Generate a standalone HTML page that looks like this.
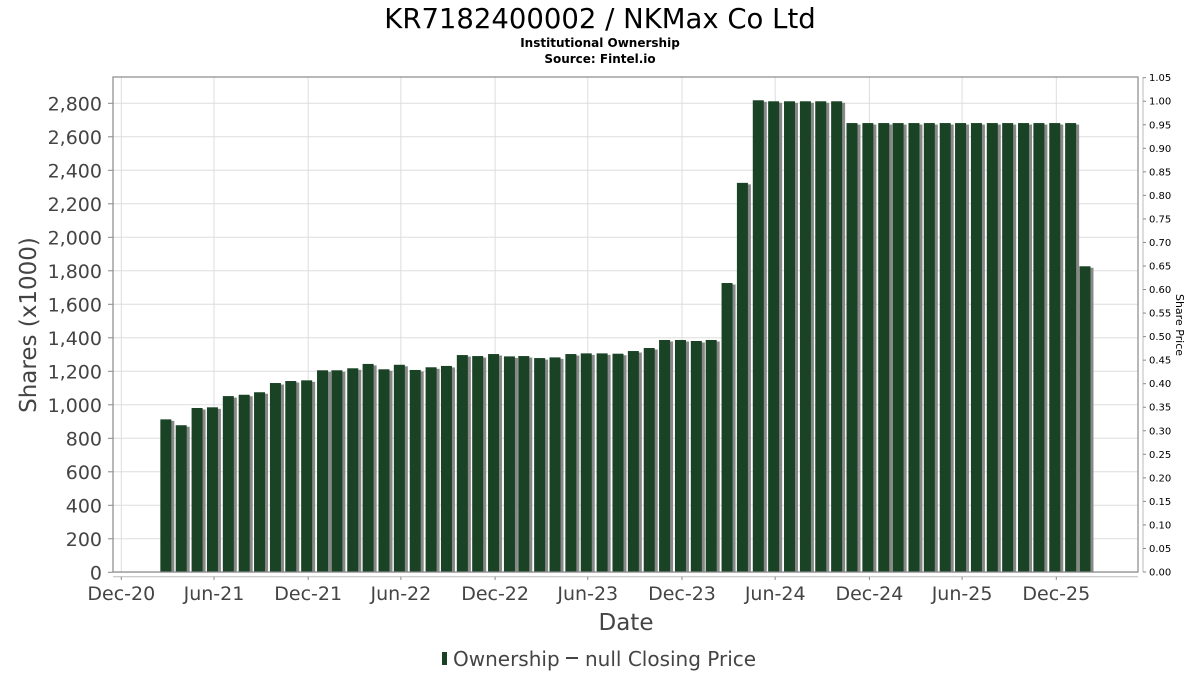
<!DOCTYPE html>
<html><head><meta charset="utf-8"><style>
body{margin:0;background:#fff;}
svg{display:block;font-family:"DejaVu Sans","Liberation Sans",sans-serif;}
</style></head><body>
<svg id="chart" width="1200" height="675" viewBox="0 0 1200 675">
<text x="600" y="28" text-anchor="middle" font-size="27.5" fill="#000">KR7182400002 / NKMax Co Ltd</text>
<text x="600" y="47" text-anchor="middle" font-size="12" font-weight="bold" fill="#000">Institutional Ownership</text>
<text x="600" y="63" text-anchor="middle" font-size="12" font-weight="bold" fill="#000">Source: Fintel.io</text>
<g id="grid"></g>
<g id="bars"></g>
<rect x="113" y="77" width="1025" height="495" fill="none" stroke="#888" stroke-width="1.2"/>
<g id="yaxis"></g>
<g id="raxis"></g>
<g id="xaxis"></g>
<text transform="translate(36,325) rotate(-90)" text-anchor="middle" font-size="23" fill="#444">Shares (x1000)</text>
<text transform="translate(1176,325) rotate(90)" text-anchor="middle" font-size="11" fill="#000">Share Price</text>
<text x="626" y="630" text-anchor="middle" font-size="23" fill="#444">Date</text>
<g>
<rect x="442" y="652" width="5" height="13" fill="#1a4325"/>
<text x="453" y="666" font-size="20" fill="#444">Ownership</text>
<line x1="566" y1="658" x2="578" y2="658" stroke="#444" stroke-width="2"/>
<text x="585" y="666" font-size="20" fill="#444">null Closing Price</text>
</g>
</svg>
<script>
const startYear = 2021, startMonth = 3; // first bar month (Mar 2021)
const ownership = [913,878,981,985,1052,1060,1075,1130,1142,1146,1206,1206,1218,1244,1212,1239,1208,1224,1232,1297,
1291,1303,1289,1291,1279,1283,1303,1307,1307,1305,1321,1339,1387,1387,1381,1387,1727,2325,2818,2812,
2812,2812,2812,2812,2682,2682,2682,2682,2682,2682,2682,2682,2682,2682,2682,2682,2682,2682,2682,1827];
const leftTicks = [0,200,400,600,800,1000,1200,1400,1600,1800,2000,2200,2400,2600,2800];
const rightTicks = [0,0.05,0.10,0.15,0.20,0.25,0.30,0.35,0.40,0.45,0.50,0.55,0.60,0.65,0.70,0.75,0.80,0.85,0.90,0.95,1.00,1.05];
const xTickLabels = ["Dec-20","Jun-21","Dec-21","Jun-22","Dec-22","Jun-23","Dec-23","Jun-24","Dec-24","Jun-25","Dec-25"];
const xTickDates = ["2020-12-31","2021-06-30","2021-12-31","2022-06-30","2022-12-31","2023-06-30","2023-12-31","2024-06-30","2024-12-31","2025-06-30","2025-12-31"];

const NS="http://www.w3.org/2000/svg";
const Y0=572.3, Y2800=103.3;
function yL(v){return Y0-(v/2800)*(Y0-Y2800);}
function yR(v){return 572-(v/1.05)*(572-77.7);}
const T0=Date.UTC(2020,11,31), PXDAY=93.5/182.6;
function xT(ms){return 121.3+(ms-T0)/86400000*PXDAY;}
function mk(tag,attrs,parent){const e=document.createElementNS(NS,tag);for(const k in attrs)e.setAttribute(k,attrs[k]);parent.appendChild(e);return e;}
const grid=document.getElementById('grid'),bars=document.getElementById('bars'),ya=document.getElementById('yaxis'),ra=document.getElementById('raxis'),xa=document.getElementById('xaxis');

leftTicks.forEach(t=>{
  const y=yL(t);
  const g=mk('line',{x1:113,x2:1138,y1:y,y2:y,stroke:'#ddd','stroke-width':1},grid);
  
  
  const tk=mk('line',{x1:108,x2:113,y1:y,y2:y,stroke:'#888'},ya);
  
  
  const tx=mk('text',{x:102,y:y+7,'text-anchor':'end','font-size':19,fill:'#444'},ya);
  tx.textContent=t.toLocaleString('en-US');
  
  
});
mk('line',{x1:1143,x2:1143,y1:77,y2:572,stroke:'#bbb'},ra);
rightTicks.forEach(t=>{
  const y=yR(t);
  const tk=mk('line',{x1:1143,x2:1146,y1:y,y2:y,stroke:'#888'},ra);
  
  
  const tx=mk('text',{x:1149,y:y+3.5,'font-size':10,fill:'#000'},ra);
  tx.textContent=t.toFixed(2);
  
  
});
mk('line',{x1:113,x2:1138,y1:576.7,y2:576.7,stroke:'#bbb'},xa);
xTickDates.forEach((d,i)=>{
  const x=xT(Date.parse(d));
  const g=mk('line',{x1:x,x2:x,y1:77,y2:572,stroke:'#ddd'},grid);
  
  
  const tk=mk('line',{x1:x,x2:x,y1:576.7,y2:580,stroke:'#888'},xa);
  
  
  const tx=mk('text',{x:x,y:600,'text-anchor':'middle','font-size':19,fill:'#444'},xa);
  tx.textContent=xTickLabels[i];
  
  
});
ownership.forEach((v,i)=>{
  const m=startMonth-1+i, yr=startYear+Math.floor(m/12), mo=m%12;
  const ms=Date.UTC(yr,mo+1,0)-3*86400000;
  const cx=xT(ms), w=11, x=cx-w/2, y=yL(v), h=Y0-y;
  const s=mk('rect',{x:x+3,y:y+1.5,width:w,height:h-1.5,fill:'#888'},bars);
  
  
  const b=mk('rect',{x:x,y:y,width:w,height:h,fill:'#1a4325'},bars);
  
  
});
</script>
</body></html>
